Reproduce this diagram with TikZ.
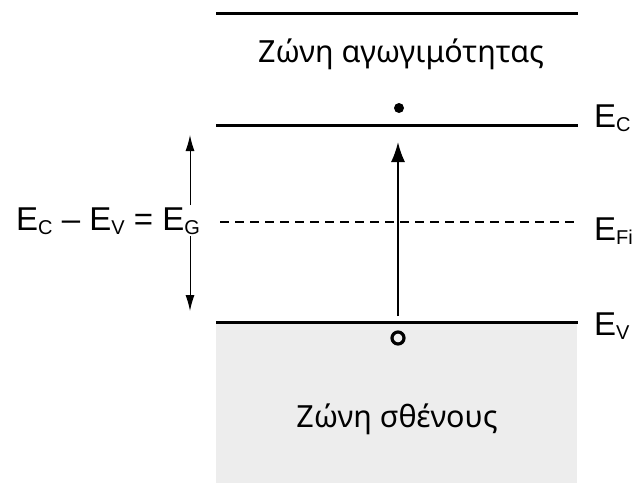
\documentclass[tikz,border=0pt]{standalone}
\usepackage{fontspec}
\setmainfont{Liberation Sans}
\newfontfamily\greekfont{Noto Sans}
\usetikzlibrary{arrows.meta}
\newcommand{\En}[1]{E\raisebox{-4pt}{\fontsize{20}{20}\selectfont #1}}
\tikzset{
    level/.style={line width=3pt},
    midlevel/.style={line width=1.2pt, dash pattern=on 9pt off 6pt},
    bandlabel/.style={font=\greekfont\fontsize{30.5}{36}\selectfont, inner sep=0pt},
    levellabel/.style={font=\fontsize{33}{38}\selectfont, anchor=base west, inner sep=0pt},
    gaparrow/.style={line width=1pt, -{Latex[length=16pt, width=9pt]}},
    jump/.style={line width=1.8pt, -{Latex[length=20pt, width=14pt]}}
}
\begin{document}
\begin{tikzpicture}[x=1pt, y=1pt]
            \useasboundingbox (0,0) rectangle (636,483);
            % valence band (shaded)
            \fill[black!7] (216,0) rectangle (577,161);

            % band edges
            \coordinate (tl) at (216,469); \coordinate (tr) at (578,469);
            \coordinate (cl) at (216,358); \coordinate (cr) at (578,358);
            \coordinate (fl) at (220,261); \coordinate (fr) at (575,261);
            \coordinate (vl) at (216,161); \coordinate (vr) at (578,161);
            \draw[level] (tl) -- (tr);
            \draw[level] (cl) -- (cr);
            \draw[midlevel] (fl) -- (fr);
            \draw[level] (vl) -- (vr);

            % band names
            \node[bandlabel, anchor=base] (cb) at (401,420) {Ζώνη αγωγιμότητας};
            \node[bandlabel, anchor=base] (vb) at (397,56) {Ζώνη σθένους};

            % level labels
            \node[levellabel] (ec) at (594,356) {\En{C}};
            \node[levellabel] (efi) at (594,243) {\En{Fi}};
            \node[levellabel] (ev) at (594,148) {\En{V}};

            % electron, hole and excitation
            \node[circle, fill=black, inner sep=0pt, minimum size=10pt] (el) at (399,375) {};
            \node[circle, draw=black, line width=3.2pt, inner sep=0pt, minimum size=12pt] (ho) at (398,145) {};
            \coordinate (js) at (398,167);
            \coordinate (je) at (398,341);
            \draw[jump] (js) -- (je);

            % energy gap
            \node[levellabel, inner sep=2pt] (eg) at (14,253) {\En{C} -- \En{V} = \En{G}};
            \coordinate (gtop) at (190,348);
            \coordinate (gbot) at (190,172);
            \draw[gaparrow] (eg.north -| gtop) -- (gtop);
            \draw[gaparrow] (eg.south -| gbot) -- (gbot);
        \end{tikzpicture}
\end{document}
